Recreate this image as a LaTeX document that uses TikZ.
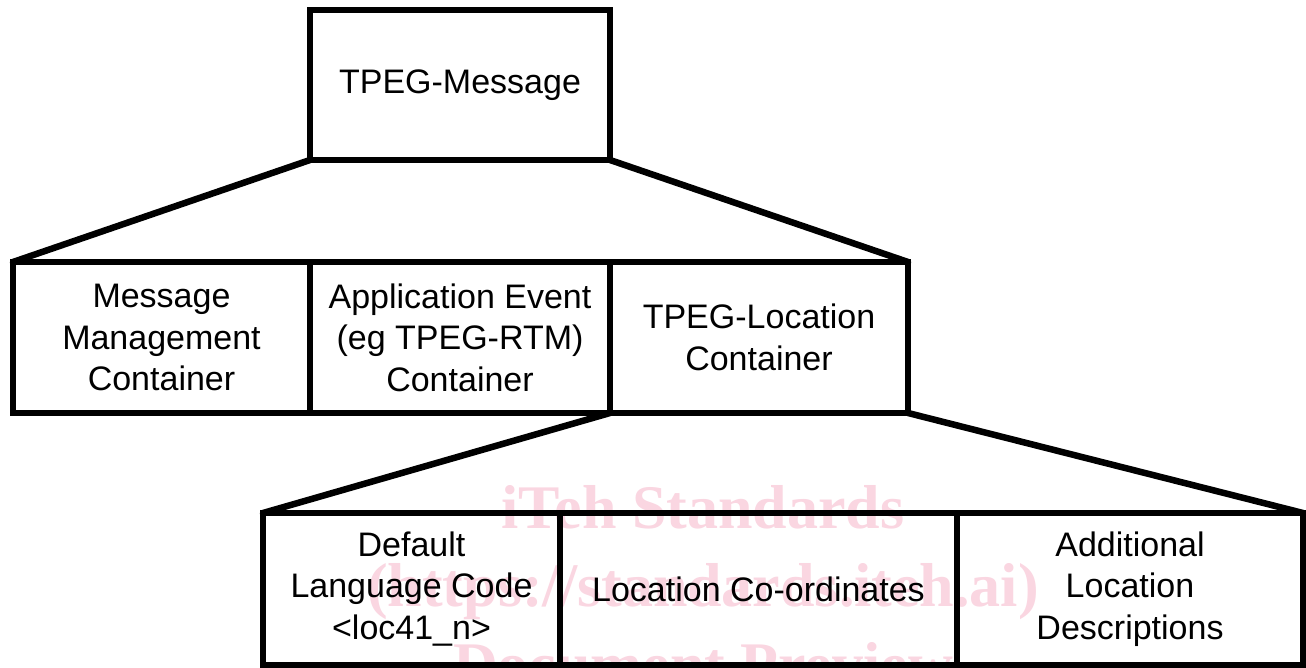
\documentclass[tikz,border=0pt]{standalone}
\usepackage{fontspec}
\setmainfont{Liberation Sans}
\newfontfamily\wmfont{Liberation Serif}
\definecolor{wmpink}{RGB}{250,214,225}
\begin{document}
\begin{tikzpicture}[x=1pt,y=-1pt,
  box/.style={draw=black,line width=6.5pt,rectangle,inner sep=0pt,outer sep=0pt,
    align=center,font=\fontsize{34}{41.5}\selectfont},
  conn/.style={draw=black,line width=6.5pt,line cap=round},
  wm/.style={text=wmpink,font=\wmfont\bfseries\fontsize{62}{64}\selectfont,inner sep=0pt,anchor=base}]
\useasboundingbox (0,0) rectangle (1306,668);
\fill[white] (0,0) rectangle (1306,668);
% watermark
\node[wm] (w1) at (703,528) {iTeh Standards};
\node[wm] (w2) at (703,606) {(https://standards.iteh.ai)};
\node[wm] (w3) at (703,685) {Document Preview};
% boxes
\node[box,minimum width=300pt,minimum height=150pt] (top) at (460,85) {TPEG-Message};
\node[box,minimum width=297pt,minimum height=151pt] (m1) at (161.5,337.5) {Message\\Management\\Container};
\node[box,minimum width=300pt,minimum height=151pt] (m2) at (460,337.5) {Application Event\\(eg TPEG-RTM)\\Container};
\node[box,minimum width=298pt,minimum height=151pt] (m3) at (759,337.5) {TPEG-Location\\Container};
\node[box,minimum width=297pt,minimum height=152pt] (b1) at (411.5,589) {Default\\Language Code\\<loc41\_n>};
\node[box,minimum width=397pt,minimum height=152pt] (b2) at (758.5,589) {Location Co-ordinates};
\node[box,minimum width=346pt,minimum height=152pt] (b3) at (1130,589) {Additional\\Location\\Descriptions};
% connectors
\draw[conn] (top.south west) -- (m1.north west);
\draw[conn] (top.south east) -- (m3.north east);
\draw[conn] (m3.south west) -- (b1.north west);
\draw[conn] (m3.south east) -- (b3.north east);
\end{tikzpicture}
\end{document}
